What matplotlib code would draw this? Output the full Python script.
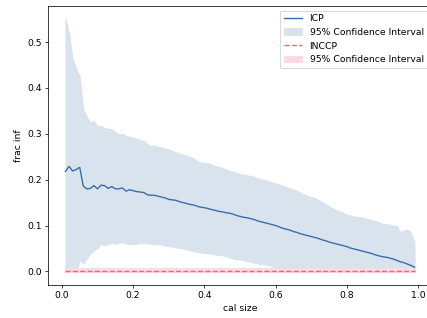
import matplotlib
matplotlib.use("Agg")
from matplotlib import pyplot as plt

cal_size = [round(0.01 * i, 2) for i in range(1, 100)]

icp_mean = [0.218, 0.229, 0.219, 0.222, 0.227, 0.186, 0.180, 0.181, 0.187, 0.180,
            0.188, 0.187, 0.181, 0.185, 0.180, 0.180, 0.182, 0.175, 0.178, 0.176,
            0.174, 0.173, 0.172, 0.167, 0.166, 0.166, 0.164, 0.162, 0.160, 0.157,
            0.156, 0.155, 0.152, 0.150, 0.148, 0.146, 0.145, 0.142, 0.140, 0.139,
            0.137, 0.135, 0.133, 0.131, 0.130, 0.128, 0.127, 0.125, 0.122, 0.120,
            0.118, 0.117, 0.115, 0.113, 0.110, 0.108, 0.106, 0.104, 0.102, 0.100,
            0.097, 0.094, 0.092, 0.090, 0.087, 0.085, 0.082, 0.080, 0.078, 0.076,
            0.074, 0.072, 0.069, 0.067, 0.064, 0.062, 0.060, 0.058, 0.056, 0.054,
            0.051, 0.049, 0.047, 0.045, 0.043, 0.041, 0.039, 0.036, 0.034, 0.032,
            0.031, 0.029, 0.027, 0.024, 0.021, 0.019, 0.016, 0.013, 0.009]

icp_upper = [0.551, 0.519, 0.465, 0.443, 0.425, 0.353, 0.338, 0.325, 0.328, 0.317,
             0.318, 0.313, 0.311, 0.310, 0.305, 0.299, 0.300, 0.295, 0.294, 0.292,
             0.289, 0.287, 0.284, 0.278, 0.273, 0.275, 0.272, 0.270, 0.268, 0.266,
             0.263, 0.260, 0.257, 0.255, 0.253, 0.250, 0.246, 0.241, 0.238, 0.237,
             0.236, 0.233, 0.230, 0.228, 0.226, 0.223, 0.219, 0.217, 0.215, 0.213,
             0.212, 0.210, 0.208, 0.206, 0.203, 0.201, 0.199, 0.197, 0.194, 0.192,
             0.190, 0.187, 0.184, 0.182, 0.179, 0.176, 0.172, 0.168, 0.165, 0.162,
             0.160, 0.156, 0.152, 0.147, 0.142, 0.138, 0.134, 0.131, 0.128, 0.124,
             0.122, 0.120, 0.119, 0.118, 0.116, 0.115, 0.112, 0.110, 0.107, 0.104,
             0.103, 0.102, 0.100, 0.100, 0.086, 0.089, 0.091, 0.085, 0.063]

icp_lower = [0.000, 0.000, 0.000, 0.000, 0.025, 0.017, 0.028, 0.039, 0.046, 0.050,
             0.061, 0.057, 0.059, 0.063, 0.060, 0.063, 0.063, 0.061, 0.060, 0.059,
             0.060, 0.062, 0.062, 0.061, 0.060, 0.059, 0.059, 0.058, 0.056, 0.055,
             0.054, 0.052, 0.051, 0.050, 0.048, 0.046, 0.044, 0.043, 0.041, 0.040,
             0.039, 0.039, 0.037, 0.036, 0.035, 0.033, 0.031, 0.028, 0.027, 0.025,
             0.024, 0.022, 0.021, 0.019, 0.017, 0.016, 0.015, 0.013, 0.011, 0.008,
             0.006, 0.004, 0.002, 0.000, 0.000, 0.000, 0.000, 0.000, 0.000, 0.000,
             0.000, 0.000, 0.000, 0.000, 0.000, 0.000, 0.000, 0.000, 0.000, 0.000,
             0.000, 0.000, 0.000, 0.000, 0.000, 0.000, 0.000, 0.000, 0.000, 0.000,
             0.000, 0.000, 0.000, 0.000, 0.000, 0.000, 0.000, 0.000, 0.000]

inccp_mean = [0.0015] * 99
inccp_lower = [-0.002] * 99
inccp_upper = [0.007] * 99

fig = plt.figure(figsize=(6.405, 4.77), dpi=100 * 2 / 3)
ax = fig.add_axes([48 / 427, 33 / 318, 384 / 427, 279 / 318])

ax.plot(cal_size, icp_mean, color='#3a6ea8', label='ICP')
ax.fill_between(cal_size, icp_lower, icp_upper, color='#d9e3ee', label='95% Confidence Interval')
ax.plot(cal_size, inccp_mean, color='#ff5c78', linestyle='--', label='INCCP')
ax.fill_between(cal_size, inccp_lower, inccp_upper, color='#fbdbe1', label='95% Confidence Interval')

ax.set_xlabel('cal size')
ax.set_ylabel('frac inf')
ax.legend(loc='upper right')

fig.savefig('out.png', dpi=100 * 2 / 3)
